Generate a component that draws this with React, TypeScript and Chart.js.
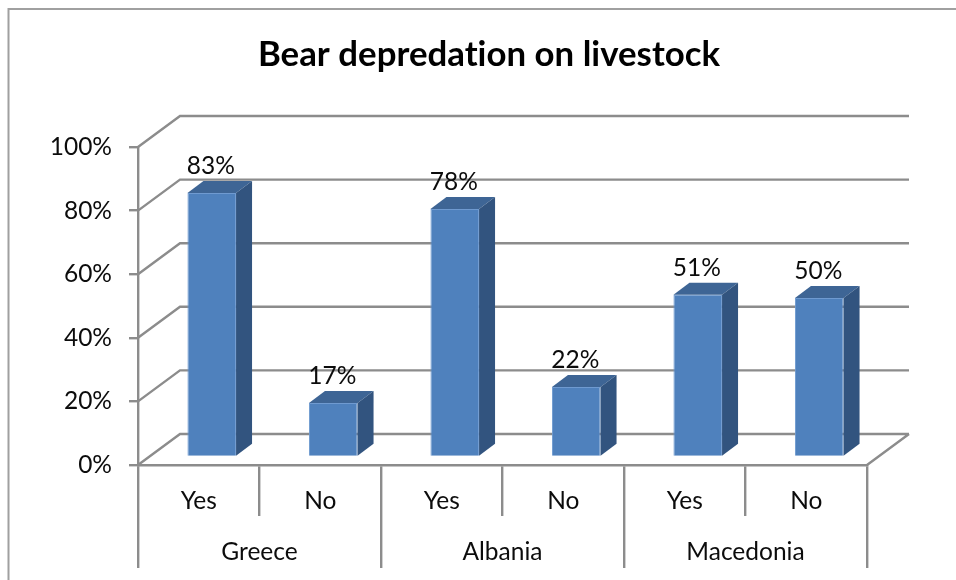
import React, { useEffect, useRef } from "react";
import { Chart, registerables } from "chart.js";

Chart.register(...registerables);

const answers = ["Yes", "No", "Yes", "No", "Yes", "No"];
const countries = ["Greece", "Albania", "Macedonia"];
const percentages = [83, 17, 78, 22, 51, 50];
const percentTicks = [0, 20, 40, 60, 80, 100];

const FONT = "Lato, 'Open Sans', sans-serif";
const LABEL_SIZE = 24.5;
const GREY = "#8c8c8c";
const TEXT = "#0c0c0c";
const FACE = "#4f81bd";
const FACE_EDGE = "#6f9ad0";
const TOP = "#3e6595";
const SIDE = "#32547f";
const LINE = 2.4;
const WALL_DEPTH = { x: 42, y: -31 };
const BAR_OFFSET = { x: 13, y: -8 };
const BAR_DEPTH = { x: 16, y: -12 };

const polygon = (ctx: CanvasRenderingContext2D, pts: number[][], fill: string) => {
  ctx.beginPath();
  pts.forEach(([x, y], i) => (i ? ctx.lineTo(x, y) : ctx.moveTo(x, y)));
  ctx.closePath();
  ctx.fillStyle = fill;
  ctx.fill();
};

// Outer frame, with its open right and bottom sides running off the page.
const framePlugin = {
  id: "frame",
  beforeDraw(chart: any) {
    const { ctx, width, height } = chart;
    ctx.letterSpacing = "0.01px";
    ctx.save();
    ctx.strokeStyle = "#a0a0a0";
    ctx.lineWidth = 2;
    ctx.beginPath();
    ctx.moveTo(8.5, height);
    ctx.lineTo(8.5, 9);
    ctx.lineTo(width, 9);
    ctx.stroke();
    ctx.restore();
  },
};

// Back-wall lines and the floor edges that give the plot its depth.
const wallPlugin = {
  id: "walls",
  beforeDatasetsDraw(chart: any) {
    const { ctx, chartArea, scales } = chart;
    const { left, right, bottom } = chartArea;
    ctx.save();
    ctx.strokeStyle = GREY;
    ctx.lineWidth = LINE;
    ctx.beginPath();
    percentTicks.forEach((tick) => {
      const y = scales.y.getPixelForValue(tick);
      ctx.moveTo(left, y);
      ctx.lineTo(left + WALL_DEPTH.x, y + WALL_DEPTH.y);
      ctx.lineTo(right + WALL_DEPTH.x, y + WALL_DEPTH.y);
    });
    ctx.moveTo(right, bottom);
    ctx.lineTo(right + WALL_DEPTH.x, bottom + WALL_DEPTH.y);
    ctx.stroke();
    ctx.restore();
  },
};

// Shifts the bars back from the front plane, then adds side and top faces and value labels.
const barsPlugin = {
  id: "bars3d",
  beforeDatasetsDraw(chart: any) {
    chart.ctx.save();
    chart.ctx.translate(BAR_OFFSET.x, BAR_OFFSET.y);
  },
  afterDatasetsDraw(chart: any) {
    const { ctx } = chart;
    const d = BAR_DEPTH;
    chart.getDatasetMeta(0).data.forEach((bar: any, i: number) => {
      const half = bar.width / 2;
      const l = bar.x - half;
      const r = bar.x + half;
      const t = bar.y;
      const b = bar.base;
      polygon(ctx, [[l, t], [r, t], [r + d.x, t + d.y], [l + d.x, t + d.y]], TOP);
      polygon(ctx, [[r, t], [r + d.x, t + d.y], [r + d.x, b + d.y], [r, b]], SIDE);
      ctx.fillStyle = TEXT;
      ctx.font = `${LABEL_SIZE}px ${FONT}`;
      ctx.textAlign = "center";
      ctx.textBaseline = "middle";
      ctx.fillText(`${percentages[i]}%`, bar.x - 1, t - 26.5);
    });
    ctx.restore();
  },
};

export default function App() {
  const ref = useRef<HTMLCanvasElement>(null);
  useEffect(() => {
    const chart = new Chart(ref.current!, {
      type: "bar",
      data: {
        labels: answers,
        datasets: [
          {
            data: percentages,
            backgroundColor: FACE,
            borderColor: FACE_EDGE,
            borderWidth: 1,
            barPercentage: 0.4,
            categoryPercentage: 1,
            clip: false,
          } as any,
        ],
      },
      plugins: [framePlugin, wallPlugin, barsPlugin],
      options: {
        responsive: false,
        animation: false,
        layout: { padding: { left: 22, right: 0, top: 0, bottom: 12 } },
        plugins: {
          legend: { display: false },
          tooltip: { enabled: false },
          title: {
            display: true,
            text: "Bear depredation on livestock",
            color: "#000000",
            font: { family: FONT, size: 34.8, weight: "bold" },
            padding: { top: 34, bottom: 71.24 },
          },
        },
        scales: {
          x: {
            type: "category",
            position: "bottom",
            weight: 0,
            grid: { drawOnChartArea: false, color: GREY, lineWidth: LINE, tickLength: 51 },
            border: { display: true, color: GREY, width: LINE },
            ticks: {
              color: TEXT,
              font: { family: FONT, size: LABEL_SIZE },
              padding: -29.5,
              autoSkip: false,
              maxRotation: 0,
            },
            afterFit(scale: any) {
              scale.height = 51;
            },
          },
          x2: {
            type: "category",
            axis: "x",
            position: "bottom",
            weight: 1,
            labels: countries,
            grid: { drawOnChartArea: false, color: GREY, lineWidth: LINE, tickLength: 52 },
            border: { display: false },
            ticks: {
              color: TEXT,
              font: { family: FONT, size: LABEL_SIZE },
              padding: -31,
              autoSkip: false,
              maxRotation: 0,
            },
            afterFit(scale: any) {
              scale.height = 52;
            },
          },
          y: {
            min: 0,
            max: 100,
            grid: { drawOnChartArea: false, color: GREY, lineWidth: LINE, tickLength: 9 },
            border: { display: true, color: GREY, width: LINE },
            ticks: {
              stepSize: 20,
              color: TEXT,
              font: { family: FONT, size: LABEL_SIZE },
              padding: 17,
              callback: (v: any) => `${v}%`,
            },
            afterFit(scale: any) {
              scale.width = 116;
            },
          },
          // Empty axis that reserves the margin right of the plot.
          rightGutter: {
            type: "linear",
            axis: "y",
            position: "right",
            grid: { display: false },
            border: { display: false },
            ticks: { display: false },
            afterFit(scale: any) {
              scale.width = 89;
            },
          },
        } as any,
      },
    });
    return () => chart.destroy();
  }, []);

  return (
    <div style={{ position: "absolute", left: 0, top: 0 }}>
      <canvas ref={ref} width={956} height={580} style={{ display: "block" }} />
    </div>
  );
}
